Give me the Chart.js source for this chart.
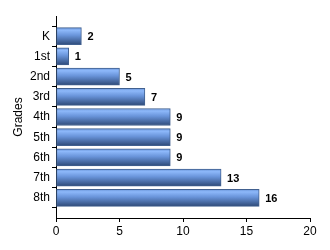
<!DOCTYPE html>
<html>
<head>
<meta charset="utf-8">
<script src="https://cdn.jsdelivr.net/npm/chart.js@4"></script>
<style>
  html, body { margin: 0; padding: 0; background: #fff; }
  #wrap { width: 330px; height: 250px; }
</style>
</head>
<body>
<div id="wrap"><canvas id="myChart" width="330" height="250"></canvas></div>
<script>
// blank labels at both ends leave one empty row of room above and below
var grades = ["", "K", "1st", "2nd", "3rd", "4th", "5th", "6th", "7th", "8th", ""];
var counts = [null, 2, 1, 5, 7, 9, 9, 9, 13, 16, null];
var xTicks = [0, 5, 10, 15, 20];

var fontFamily = "'Liberation Sans', Arial, sans-serif";

function barFill(context) {
  var chart = context.chart;
  var yScale = chart.scales && chart.scales.y;
  if (!chart.chartArea || !yScale) return "#6d98dc";
  var cy = yScale.getPixelForValue(context.dataIndex);
  var g = chart.ctx.createLinearGradient(0, cy - 8.5, 0, cy + 8.5);
  g.addColorStop(0, "#6a95d8");
  g.addColorStop(0.15, "#8db8fa");
  g.addColorStop(0.45, "#6994da");
  g.addColorStop(1, "#2e4a78");
  return g;
}

// value printed just right of each bar
var valueLabels = {
  id: "valueLabels",
  afterDatasetsDraw: function(chart) {
    var ctx = chart.ctx;
    var meta = chart.getDatasetMeta(0);
    ctx.save();
    ctx.font = "bold 11px " + fontFamily;
    ctx.fillStyle = "#000";
    ctx.textBaseline = "middle";
    ctx.textAlign = "left";
    meta.data.forEach(function(bar, i) {
      if (counts[i] == null) return;
      ctx.fillText(String(counts[i]), bar.x + 6, bar.y + 1);
    });
    ctx.restore();
  }
};

new Chart("myChart", {
  type: "bar",
  data: {
    labels: grades,
    datasets: [{
      data: counts,
      backgroundColor: barFill,
      borderColor: "#41608f",
      borderWidth: 1,
      borderSkipped: false,
      barThickness: 17
    }]
  },
  options: {
    indexAxis: "y",
    responsive: false,
    animation: false,
    events: [],
    layout: { padding: { top: 16, right: 20, left: 0, bottom: 0 } },
    plugins: {
      legend: { display: false },
      tooltip: { enabled: false }
    },
    scales: {
      x: {
        type: "linear",
        min: 0,
        max: 20,
        afterBuildTicks: function(scale) {
          scale.ticks = xTicks.map(function(v) { return { value: v }; });
        },
        afterFit: function(scale) { scale.height = 32; },
        border: { display: true, color: "#000", width: 1 },
        grid: { drawOnChartArea: false, drawTicks: true, tickLength: 4, color: "#000" },
        ticks: { color: "#000", padding: 2, font: { family: fontFamily, size: 12 } }
      },
      y: {
        type: "category",
        offset: false,
        afterFit: function(scale) { scale.width = 56; },
        border: { display: true, color: "#000", width: 1 },
        grid: { drawOnChartArea: false, drawTicks: true, tickLength: 4, color: "#000" },
        ticks: { color: "#000", padding: 2, autoSkip: false, font: { family: fontFamily, size: 12 } },
        title: {
          display: true,
          text: "Grades",
          color: "#000",
          padding: { top: 11, bottom: 0 },
          font: { family: fontFamily, size: 12 }
        }
      }
    }
  },
  plugins: [valueLabels]
});
</script>
</body>
</html>
